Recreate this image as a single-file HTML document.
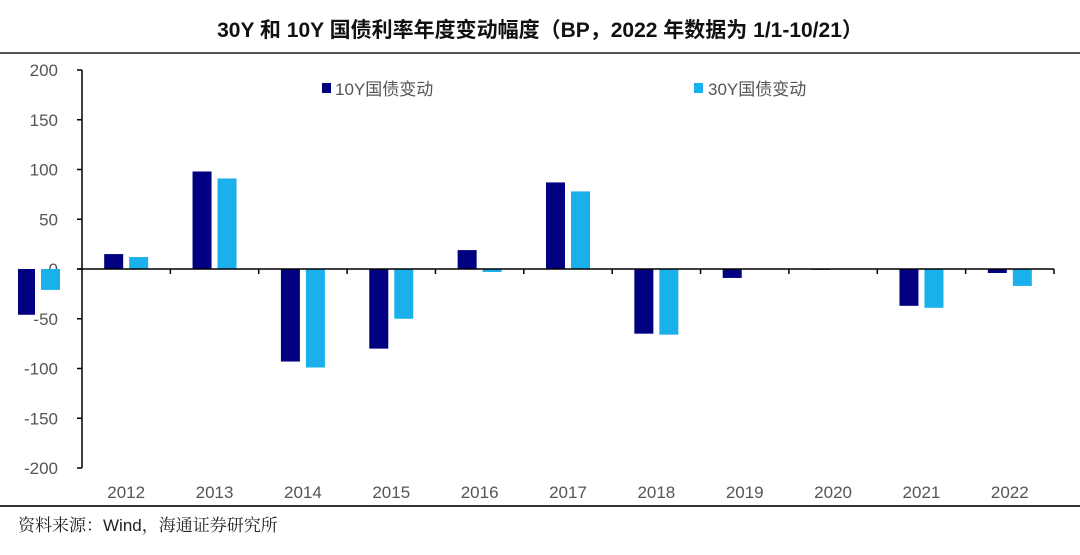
<!DOCTYPE html>
<html><head><meta charset="utf-8">
<style>
html,body{margin:0;padding:0;background:#fff;}
body{width:1080px;height:550px;overflow:hidden;position:relative;font-family:"Liberation Sans","Noto Sans CJK SC",sans-serif;}
.src{font-family:"Noto Serif CJK SC","Liberation Serif",serif;}
</style></head>
<body>
<svg id="chart" width="1080" height="550" xmlns="http://www.w3.org/2000/svg">
  <text x="540" y="37" text-anchor="middle" font-size="21" font-weight="bold" fill="#111">30Y 和 10Y 国债利率年度变动幅度（BP，2022 年数据为 1/1-10/21）</text>
  <line x1="0" y1="53" x2="1080" y2="53" stroke="#555" stroke-width="2"/>
  <line x1="0" y1="506" x2="1080" y2="506" stroke="#333" stroke-width="2"/>
  <text class="src" x="18" y="531" font-size="17" fill="#222">资料来源：<tspan font-family="Liberation Sans, sans-serif">Wind</tspan>，海通证券研究所</text>
  <g id="plot"></g>
  <g>
    <rect x="322" y="83" width="9" height="10" fill="#000080"/>
    <text x="335" y="95" font-size="17" fill="#555">10Y国债变动</text>
    <rect x="694" y="83" width="9" height="10" fill="#1AB0EC"/>
    <text x="708" y="95" font-size="17" fill="#555">30Y国债变动</text>
  </g>
</svg>
<script>
const categories = ["2012","2013","2014","2015","2016","2017","2018","2019","2020","2021","2022"];
const series10Y = [15, 98, -93, -80, 19, 87, -65, -9, 0, -37, -4];
const series30Y = [12, 91, -99, -50, -3, 78, -66, 0.5, 0.5, -39, -17];
const strayCategory = ["2011"];
const stray10Y = [-46];
const stray30Y = [-21];
const yTicks = [200, 150, 100, 50, 0, -50, -100, -150, -200];

const NS = "http://www.w3.org/2000/svg";
const plot = document.getElementById("plot");
const X0 = 82, X1 = 1054, YTOP = 70, YBOT = 468, YMIN = -200, YMAX = 200;
const band = (X1 - X0) / categories.length;
function y(v){ return YBOT - (v - YMIN) / (YMAX - YMIN) * (YBOT - YTOP); }
function xc(i){ return X0 + band * (i + 0.5); }
function mk(tag, attrs){ const e = document.createElementNS(NS, tag); for (const k in attrs) e.setAttribute(k, attrs[k]); plot.appendChild(e); return e; }

let ax = mk("line", {x1:X0, y1:YTOP, x2:X0, y2:YBOT, stroke:"#000", "stroke-width":1.5});


yTicks.forEach(v => {
  const t = mk("line", {x1:X0-5, y1:y(v), x2:X0, y2:y(v), stroke:"#000", "stroke-width":1.5});
  
  
  const l = mk("text", {x:58, y:y(v)+6, "text-anchor":"end", "font-size":17, fill:"#555"});
  l.textContent = v;
  
  
});

function bars(vals, off, color, name, base){
  vals.forEach((v, i) => {
    const cx = xc(i + base);
    const top = Math.min(y(v), y(0)), h = Math.max(Math.abs(y(v) - y(0)), 0.8);
    const r = mk("rect", {x:cx+off, y:top, width:19, height:h, fill:color});
    
    
  });
}
bars(series10Y, -22, "#000080", "bar-10y", 0);
bars(series30Y, 3, "#1AB0EC", "bar-30y", 0);
stray10Y.forEach((v,i)=>{
  const r = mk("rect", {x:18, y:y(0), width:17, height:y(v)-y(0), fill:"#000080"});
  
  
});
stray30Y.forEach((v,i)=>{
  const r = mk("rect", {x:41, y:y(0), width:19, height:y(v)-y(0), fill:"#1AB0EC"});
  
  
});

const xa = mk("line", {x1:X0-5, y1:y(0), x2:X1, y2:y(0), stroke:"#000", "stroke-width":1.5});


categories.forEach((c, i) => {
  const tk = mk("line", {x1:X0+band*(i+1), y1:y(0), x2:X0+band*(i+1), y2:y(0)+5, stroke:"#000", "stroke-width":1.5});
  
  
  const l = mk("text", {x:xc(i), y:498, "text-anchor":"middle", "font-size":17, fill:"#555"});
  l.textContent = c;
  
  
});
</script>
</body></html>
